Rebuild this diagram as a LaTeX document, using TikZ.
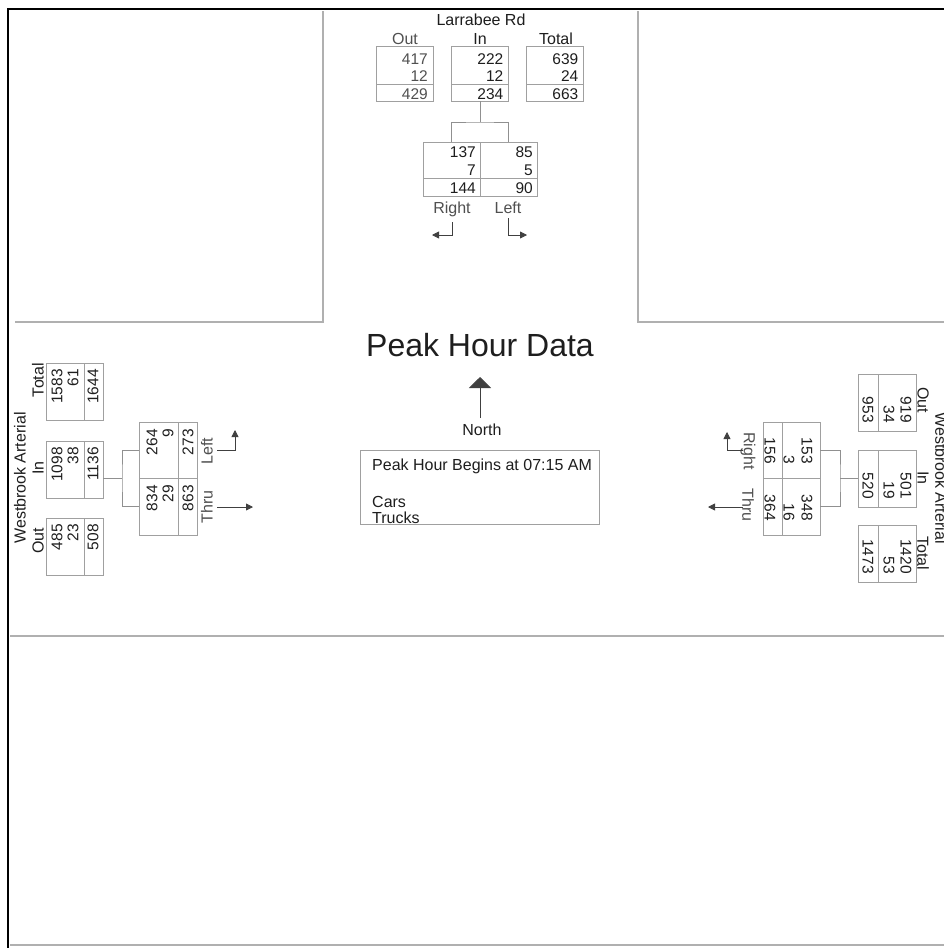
\documentclass[tikz,border=0pt]{standalone}
\usepackage{fontspec}
\setmainfont{Liberation Sans}
\usetikzlibrary{arrows.meta}
\definecolor{boxgray}{HTML}{A0A0A0}
\definecolor{conngray}{HTML}{909090}
\definecolor{arrowgray}{HTML}{404040}
\definecolor{framegray}{HTML}{B0B0B0}
\definecolor{txt}{HTML}{1E1E1E}
\definecolor{txtlight}{HTML}{505050}

\newcommand{\TopBox}[7]{%
  \node[bx={57pt}{55pt}, anchor=north] (#1) at (#2,#3) {};
  \draw[sepl] ([yshift=-38pt]#1.north west) -- ([yshift=-38pt]#1.north east);
  \node[val, text=#7, anchor=base east] (#1a) at ([xshift=-5pt,yshift=-18pt]#1.north east) {#4};
  \node[val, text=#7, anchor=base east] (#1b) at ([xshift=-5pt,yshift=-35pt]#1.north east) {#5};
  \node[val, text=#7, anchor=base east] (#1c) at ([xshift=-5pt,yshift=-53pt]#1.north east) {#6};
}
\newcommand{\LeftBox}[6]{%
  \node[bx={57pt}{57pt}, anchor=north west] (#1) at (#2,#3) {};
  \draw[sepl] ([xshift=38pt]#1.north west) -- ([xshift=38pt]#1.south west);
  \node[val, rotate=90, anchor=east] (#1a) at ([xshift=11pt,yshift=-6pt]#1.north west) {#4};
  \node[val, rotate=90, anchor=east] (#1b) at ([xshift=27pt,yshift=-6pt]#1.north west) {#5};
  \node[val, rotate=90, anchor=east] (#1c) at ([xshift=47pt,yshift=-6pt]#1.north west) {#6};
}
\newcommand{\RightBox}[6]{%
  \node[bx={58pt}{57pt}, anchor=north east] (#1) at (#2,#3) {};
  \draw[sepl] ([xshift=-38pt]#1.north east) -- ([xshift=-38pt]#1.south east);
  \node[val, rotate=-90, anchor=east] (#1a) at ([xshift=-10pt,yshift=8pt]#1.south east) {#4};
  \node[val, rotate=-90, anchor=east] (#1b) at ([xshift=-27pt,yshift=8pt]#1.south east) {#5};
  \node[val, rotate=-90, anchor=east] (#1c) at ([xshift=-48pt,yshift=8pt]#1.south east) {#6};
}

\begin{document}
\begin{tikzpicture}[x=1pt,y=-1pt,
  lbl/.style={font=\fontsize{16}{18}\selectfont, text=txt, inner sep=0},
  val/.style={font=\fontsize{15.5}{17}\selectfont, text=txt, inner sep=0},
  bx/.style 2 args={draw=boxgray, line width=0.8pt, inner sep=0, outer sep=0, minimum width=#1, minimum height=#2},
  sepl/.style={draw=boxgray, line width=0.7pt},
  conn/.style={draw=conngray, line width=0.8pt},
  arr/.style={draw=arrowgray, line width=0.8pt, -{Triangle[length=7pt,width=7pt]}},
  fr/.style={draw=framegray, line width=1.2pt}]

\useasboundingbox (0,0) rectangle (944,948);
\fill[white] (0,0) rectangle (944,948);

% frame and quadrants
\draw[fr] (15,322) -- (323,322) -- (323,11);
\draw[fr] (638,11) -- (638,322) -- (944,322);
\draw[fr, line width=1.4pt] (10,636) -- (944,636);
\draw[fr] (10,945) -- (944,945);
\draw[black, line width=2.8pt] (8,948) -- (8,9) -- (944,9);

% ---------- top approach ----------
\node[lbl, anchor=base] (tTitle) at (481,25) {Larrabee Rd};
\node[lbl, anchor=base, text=txtlight] (tOutH) at (405,44) {Out};
\node[lbl, anchor=base] (tInH) at (480,44) {In};
\node[lbl, anchor=base] (tTotH) at (556,44) {Total};
\TopBox{tOut}{404.5}{46}{417}{12}{429}{txtlight}
\TopBox{tIn}{480}{46}{222}{12}{234}{txt}
\TopBox{tTot}{555}{46}{639}{24}{663}{txt}

\node[bx={57pt}{54pt}, anchor=north west] (tR) at (423,142) {};
\node[bx={57pt}{54pt}, anchor=north west] (tL) at (480,142) {};
\draw[sepl] ([yshift=-36pt]tR.north west) -- ([yshift=-36pt]tL.north east);
\node[val, anchor=base east] (tR1) at ([xshift=-4pt,yshift=-15pt]tR.north east) {137};
\node[val, anchor=base east] (tR2) at ([xshift=-4pt,yshift=-33pt]tR.north east) {7};
\node[val, anchor=base east] (tR3) at ([xshift=-4pt,yshift=-51pt]tR.north east) {144};
\node[val, anchor=base east] (tL1) at ([xshift=-4pt,yshift=-15pt]tL.north east) {85};
\node[val, anchor=base east] (tL2) at ([xshift=-4pt,yshift=-33pt]tL.north east) {5};
\node[val, anchor=base east] (tL3) at ([xshift=-4pt,yshift=-51pt]tL.north east) {90};
\draw[conn] (tIn.south) -- ++(0,21) coordinate (tj);
\draw[conn] (tR.north) |- (tj) -| (tL.north);
\node[lbl, anchor=base, text=txtlight] (tRlab) at (452,213) {Right};
\node[lbl, anchor=base, text=txtlight] (tLlab) at (508,213) {Left};
\coordinate (tRa) at (452,222); \coordinate (tRt) at (432,235);
\coordinate (tLa) at (508,218); \coordinate (tLt) at (527,235);
\draw[arr] (tRa) |- (tRt);
\draw[arr] (tLa) |- (tLt);

% ---------- centre ----------
\node[anchor=base, font=\fontsize{32}{36}\selectfont, text=txt, inner sep=0] (title) at (480,356) {Peak Hour Data};
\coordinate (nBase) at (480,418); \coordinate (nTip) at (480,377);
\draw[draw=arrowgray, line width=0.8pt, -{Triangle[length=11pt,width=22pt]}] (nBase) -- (nTip);
\node[lbl, anchor=base] (north) at (482,435) {North};
\node[bx={239pt}{74pt}, anchor=north west] (info) at (360,450) {};
\node[lbl, anchor=base west] (info1) at (372,470) {Peak Hour Begins at 07:15 AM};
\node[lbl, anchor=base west] (info2) at (372,507) {Cars};
\node[lbl, anchor=base west] (info3) at (372,523) {Trucks};

% ---------- left approach ----------
\node[lbl, rotate=90] (lTitle) at (20,478) {Westbrook Arterial};
\node[lbl, rotate=90, anchor=east] (lTotH) at (38,363) {Total};
\node[lbl, rotate=90] (lInH) at (38,468) {In};
\node[lbl, rotate=90] (lOutH) at (38,541) {Out};
\LeftBox{lTot}{46}{363}{1583}{61}{1644}
\LeftBox{lIn}{46}{441}{1098}{38}{1136}
\LeftBox{lOut}{46}{518}{485}{23}{508}

\node[bx={58pt}{56pt}, anchor=north west] (lL) at (139,422) {};
\node[bx={58pt}{57pt}, anchor=north west] (lT) at (139,478) {};
\draw[sepl] ([xshift=39pt]lL.north west) -- ([xshift=39pt]lT.south west);
\node[val, rotate=90, anchor=east] (lL1) at (152,429) {264};
\node[val, rotate=90, anchor=east] (lL2) at (168,429) {9};
\node[val, rotate=90, anchor=east] (lL3) at (188,429) {273};
\node[val, rotate=90, anchor=east] (lT1) at (152,485) {834};
\node[val, rotate=90, anchor=east] (lT2) at (168,485) {29};
\node[val, rotate=90, anchor=east] (lT3) at (188,485) {863};
\coordinate (lj) at (122,478);
\draw[conn] (lL.west) -| (lj) |- (lT.west);
\draw[conn] (lIn.east |- lj) -- (lj);
\node[lbl, rotate=90, text=txtlight] (lLlab) at (207,451) {Left};
\node[lbl, rotate=90, text=txtlight] (lTlab) at (207,507) {Thru};
\coordinate (lLa) at (217,450); \coordinate (lLt) at (235,430);
\coordinate (lTa) at (217,507); \coordinate (lTt) at (253,507);
\draw[arr] (lLa) -| (lLt);
\draw[arr] (lTa) -- (lTt);

% ---------- right approach ----------
\node[lbl, rotate=-90] (rTitle) at (941,478) {Westbrook Arterial};
\node[lbl, rotate=-90] (rOutH) at (923,400) {Out};
\node[lbl, rotate=-90] (rInH) at (923,478) {In};
\node[lbl, rotate=-90] (rTotH) at (923,553) {Total};
\RightBox{rOut}{916}{374}{919}{34}{953}
\RightBox{rIn}{916}{450}{501}{19}{520}
\RightBox{rTot}{916}{525}{1420}{53}{1473}

\node[bx={57pt}{56pt}, anchor=north west] (rR) at (763,422) {};
\node[bx={57pt}{57pt}, anchor=north west] (rT) at (763,478) {};
\draw[sepl] ([xshift=19pt]rR.north west) -- ([xshift=19pt]rT.south west);
\node[val, rotate=-90, anchor=east] (rR1) at (807,464) {153};
\node[val, rotate=-90, anchor=east] (rR2) at (789,464) {3};
\node[val, rotate=-90, anchor=east] (rR3) at (770,464) {156};
\node[val, rotate=-90, anchor=east] (rT1) at (807,521) {348};
\node[val, rotate=-90, anchor=east] (rT2) at (789,521) {16};
\node[val, rotate=-90, anchor=east] (rT3) at (770,521) {364};
\coordinate (rj) at (840,478);
\draw[conn] (rR.east) -| (rj) |- (rT.east);
\draw[conn] (rj) -- (rIn.west |- rj);
\node[lbl, rotate=-90, text=txtlight] (rRlab) at (748,451) {Right};
\node[lbl, rotate=-90, text=txtlight] (rTlab) at (748,505) {Thru};
\coordinate (rRa) at (743,450); \coordinate (rRt) at (727,432);
\coordinate (rTa) at (743,507); \coordinate (rTt) at (708,507);
\draw[arr] (rRa) -| (rRt);
\draw[arr] (rTa) -- (rTt);
\end{tikzpicture}
\end{document}
